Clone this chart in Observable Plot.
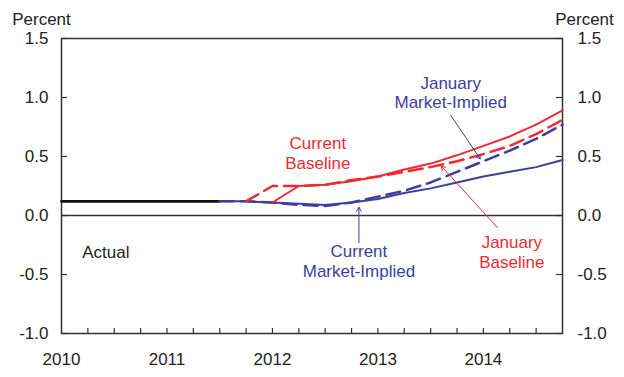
<!DOCTYPE html>
<html>
<head>
<meta charset="utf-8">
<script src="https://cdn.jsdelivr.net/npm/d3@7"></script>
<script src="https://cdn.jsdelivr.net/npm/@observablehq/plot@0.6"></script>
<style>
  body { margin: 0; background: #fff; }
  #chart svg { display: block; }
</style>
</head>
<body>
<div id="chart"></div>
<script>
// Axis ticks
const yearTicks = [2010, 2011, 2012, 2013, 2014];
const quarterTicks = [2010.25, 2010.5, 2010.75, 2011, 2011.25, 2011.5, 2011.75, 2012,
  2012.25, 2012.5, 2012.75, 2013, 2013.25, 2013.5, 2013.75, 2014, 2014.25, 2014.5];
const percentTicks = [-1, -0.5, 0, 0.5, 1, 1.5];

// Actual federal funds rate, quarterly (decimal year of quarter start)
const actualDates = [2010, 2010.25, 2010.5, 2010.75, 2011, 2011.25, 2011.5];
const actualValues = [0.12, 0.12, 0.12, 0.12, 0.12, 0.12, 0.12];

// Current market-implied path
const currentMarketDates = [2011.5, 2011.75, 2012, 2012.25, 2012.5, 2012.75, 2013,
  2013.25, 2013.5, 2013.75, 2014, 2014.25, 2014.5, 2014.75];
const currentMarketValues = [0.12, 0.12, 0.11, 0.10, 0.09, 0.11, 0.14,
  0.19, 0.23, 0.28, 0.33, 0.37, 0.41, 0.47];

// January market-implied path
const januaryMarketDates = [2011.5, 2011.75, 2012, 2012.25, 2012.5, 2012.75, 2013,
  2013.25, 2013.5, 2013.75, 2014, 2014.25, 2014.5, 2014.75];
const januaryMarketValues = [0.12, 0.12, 0.11, 0.09, 0.08, 0.11, 0.16,
  0.21, 0.28, 0.37, 0.46, 0.55, 0.65, 0.77];

// January baseline path
const januaryBaselineDates = [2011.75, 2012, 2012.25, 2012.5, 2012.75, 2013,
  2013.25, 2013.5, 2013.75, 2014, 2014.25, 2014.5, 2014.75];
const januaryBaselineValues = [0.12, 0.25, 0.25, 0.26, 0.30, 0.33,
  0.37, 0.41, 0.46, 0.52, 0.59, 0.69, 0.81];

// Current baseline path
const currentBaselineDates = [2012, 2012.25, 2012.5, 2012.75, 2013,
  2013.25, 2013.5, 2013.75, 2014, 2014.25, 2014.5, 2014.75];
const currentBaselineValues = [0.11, 0.25, 0.26, 0.29, 0.33,
  0.39, 0.44, 0.51, 0.59, 0.67, 0.77, 0.89];

const rows = (dates, values) => dates.map((date, i) => ({date, value: values[i]}));

const RED = "#ee2a30";
const BLUE = "#3d3d9d";
const INK = "#222";
const W = 624, H = 377;
const mL = 61, mR = 62, mT = 38, mB = 44;
const plotW = W - mL - mR, plotH = H - mT - mB;
const FS = 17;

const label = (text, x, y, fill) =>
  Plot.text([{text, x, y}], {x: "x", y: "y", text: "text", fill, fontSize: FS, lineHeight: 1.17, textAnchor: "middle"});

const arrow = (x1, y1, x2, y2, stroke) =>
  Plot.arrow([{x1, y1, x2, y2}], {x1: "x1", y1: "y1", x2: "x2", y2: "y2", stroke, strokeWidth: 1, headLength: 7, bend: 0});

const chart = Plot.plot({
  width: W,
  height: H,
  marginLeft: mL,
  marginRight: mR,
  marginTop: mT,
  marginBottom: mB,
  style: {fontFamily: "'Liberation Sans', Arial, sans-serif", fontSize: FS + "px", color: INK, background: "#fff"},
  x: {type: "linear", domain: [2010, 2014.75]},
  y: {domain: [-1, 1.5]},
  marks: [
    // Axis labels
    Plot.axisY(percentTicks, {anchor: "left", tickSize: 0, tickPadding: 13, tickFormat: d => d.toFixed(1), label: null, fill: INK}),
    Plot.axisY(percentTicks, {anchor: "right", tickSize: 0, tickPadding: 15, tickFormat: d => d.toFixed(1), label: null, fill: INK}),
    Plot.axisX(yearTicks, {anchor: "bottom", tickSize: 0, tickPadding: 19, tickFormat: d => String(d), label: null, fill: INK}),
    Plot.text(["Percent"], {frameAnchor: "top-left", textAnchor: "middle", lineAnchor: "middle", dx: -20, dy: -19, fill: INK, fontSize: FS}),
    Plot.text(["Percent"], {frameAnchor: "top-right", textAnchor: "middle", lineAnchor: "middle", dx: 22, dy: -19, fill: INK, fontSize: FS}),

    // Inward tick marks
    Plot.tickY(percentTicks, {y: d => d, insetRight: plotW - 6, stroke: "#333", strokeWidth: 1.2}),
    Plot.tickY(percentTicks, {y: d => d, insetLeft: plotW - 6, stroke: "#333", strokeWidth: 1.2}),
    Plot.tickX(quarterTicks, {x: d => d, insetTop: plotH - 5, stroke: "#333", strokeWidth: 1.2}),

    // Zero line and frame
    Plot.ruleY([0], {stroke: "#333", strokeWidth: 1.5}),
    Plot.frame({stroke: "#333", strokeWidth: 1.5}),

    // Series
    Plot.line(rows(actualDates, actualValues), {x: "date", y: "value", stroke: "#111", strokeWidth: 2.6}),
    Plot.line(rows(currentMarketDates, currentMarketValues), {x: "date", y: "value", stroke: BLUE, strokeWidth: 2}),
    Plot.line(rows(januaryMarketDates, januaryMarketValues), {x: "date", y: "value", stroke: BLUE, strokeWidth: 2.5, strokeDasharray: "14,7"}),
    Plot.line(rows(januaryBaselineDates, januaryBaselineValues), {x: "date", y: "value", stroke: RED, strokeWidth: 2.5, strokeDasharray: "14,7"}),
    Plot.line(rows(currentBaselineDates, currentBaselineValues), {x: "date", y: "value", stroke: RED, strokeWidth: 2}),

    // Annotations
    label("Actual", 2010.42, -0.305, INK),
    label("Current\nBaseline", 2012.43, 0.53, RED),
    label("January\nMarket-Implied", 2013.69, 1.045, BLUE),
    label("Current\nMarket-Implied", 2012.82, -0.38, BLUE),
    label("January\nBaseline", 2014.27, -0.305, RED),
    arrow(2012.82, -0.23, 2012.82, 0.07, BLUE),
    arrow(2013.69, 0.85, 2013.97, 0.48, BLUE),
    arrow(2014.13, -0.10, 2013.60, 0.42, RED)
  ]
});

document.getElementById("chart").append(chart);
</script>
</body>
</html>
